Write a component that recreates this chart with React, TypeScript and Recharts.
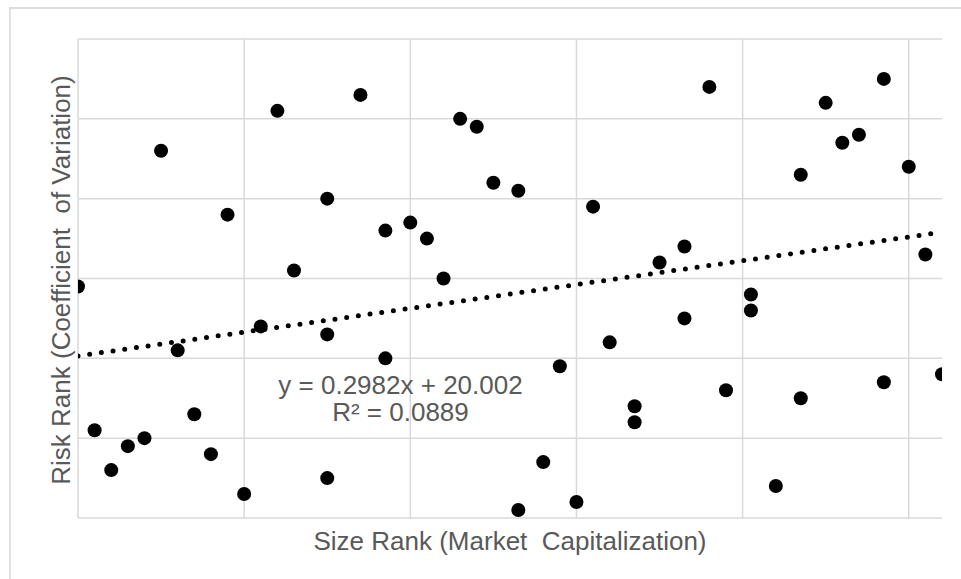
import React from "react";
import { ScatterChart, Scatter, XAxis, YAxis, ReferenceLine } from "recharts";

// Size rank (x) of each company
const sizeRank = [
  1, 2, 3, 4, 5, 6, 7, 8, 9, 10, 11, 12, 13, 14, 16, 16, 16, 18, 19.5, 19.5,
  21, 22, 23, 24, 25, 26, 27.5, 27.5, 29, 30, 31, 32, 33, 34.5, 34.5, 36, 37.5,
  37.5, 39, 40, 41.5, 41.5, 43, 44.5, 44.5, 46, 47, 48, 49.5, 49.5, 51, 52, 53,
];
// Risk rank (y) of each company
const riskRank = [
  29, 11, 6, 9, 10, 46, 21, 13, 8, 38, 3, 24, 51, 31, 40, 23, 5, 53, 36, 20,
  37, 35, 30, 50, 49, 42, 41, 1, 7, 19, 2, 39, 22, 14, 12, 32, 34, 25, 54, 16,
  28, 26, 4, 43, 15, 52, 47, 48, 55, 17, 44, 33, 18,
];
// Linear trendline end points (y = 0.2982x + 20.002)
const trendX = [1, 53];
const trendY = [20.3, 35.8];

const xTicks = [1, 11, 21, 31, 41, 51];
const yTicks = [0, 10, 20, 30, 40, 50, 60];

const points = sizeRank.map((x, i) => ({ x, y: riskRank[i] }));
const trend = trendX.map((x, i) => ({ x, y: trendY[i] }));

const textColor = "#595959";
const gridColor = "#d9d9d9";
const font = "'Liberation Sans', Arial, sans-serif";

const Dot = (props: any) => {
  const { cx, cy } = props;
  if (cx == null || cy == null) return null;
  return <circle cx={cx} cy={cy} r={7} fill="#000000" />;
};

export default function App() {
  return (
    <div
      style={{
        position: "absolute",
        left: 0,
        top: 0,
        width: 961,
        height: 579,
        background: "#ffffff",
        overflow: "hidden",
        fontFamily: font,
      }}
    >
      <div
        style={{
          position: "absolute",
          left: 9,
          top: 7,
          width: 1000,
          height: 1000,
          borderTop: "2px solid #dcdcdc",
          borderLeft: "2px solid #e0e0e0",
        }}
      />
      <div style={{ position: "absolute", left: 0, top: 0 }}>
        <ScatterChart
          width={961}
          height={579}
          margin={{ top: 39, right: 19, bottom: 61, left: 78 }}
        >
          <XAxis
            type="number"
            dataKey="x"
            domain={[1, 53]}
            ticks={xTicks}
            height={0}
            tick={false}
            axisLine={false}
            tickLine={false}
            allowDataOverflow
          />
          <YAxis
            type="number"
            dataKey="y"
            domain={[0, 60]}
            ticks={yTicks}
            width={0}
            tick={false}
            axisLine={false}
            tickLine={false}
            allowDataOverflow
          />
          {yTicks.map((t) => (
            <ReferenceLine
              key={"y" + t}
              y={t}
              stroke={gridColor}
              strokeWidth={1.5}
              ifOverflow="extendDomain"
            />
          ))}
          {xTicks.map((t) => (
            <ReferenceLine
              key={"x" + t}
              x={t}
              stroke={gridColor}
              strokeWidth={1.5}
            />
          ))}
          <Scatter data={points} shape={Dot} isAnimationActive={false} />
          <Scatter
            data={trend}
            shape={() => null}
            line={{
              stroke: "#000000",
              strokeWidth: 5,
              strokeDasharray: "0 11.8",
              strokeLinecap: "round",
            }}
            lineType="joint"
            isAnimationActive={false}
          />
        </ScatterChart>
      </div>
      <div
        style={{
          position: "absolute",
          left: 400.5,
          top: 372,
          transform: "translateX(-50%)",
          color: textColor,
          fontSize: 26,
          lineHeight: "27px",
          textAlign: "center",
          whiteSpace: "pre",
        }}
      >
        {"y = 0.2982x + 20.002\nR² = 0.0889"}
      </div>
      <div
        style={{
          position: "absolute",
          left: 510,
          top: 526,
          transform: "translateX(-50%)",
          color: textColor,
          fontSize: 26,
          lineHeight: "30px",
          whiteSpace: "pre",
        }}
      >
        {"Size Rank (Market  Capitalization)"}
      </div>
      <div
        style={{
          position: "absolute",
          left: 61,
          top: 280,
          transform: "translate(-50%, -50%) rotate(-90deg)",
          color: textColor,
          fontSize: 26,
          lineHeight: "30px",
          whiteSpace: "pre",
        }}
      >
        {"Risk Rank (Coefficient  of Variation)"}
      </div>
    </div>
  );
}
